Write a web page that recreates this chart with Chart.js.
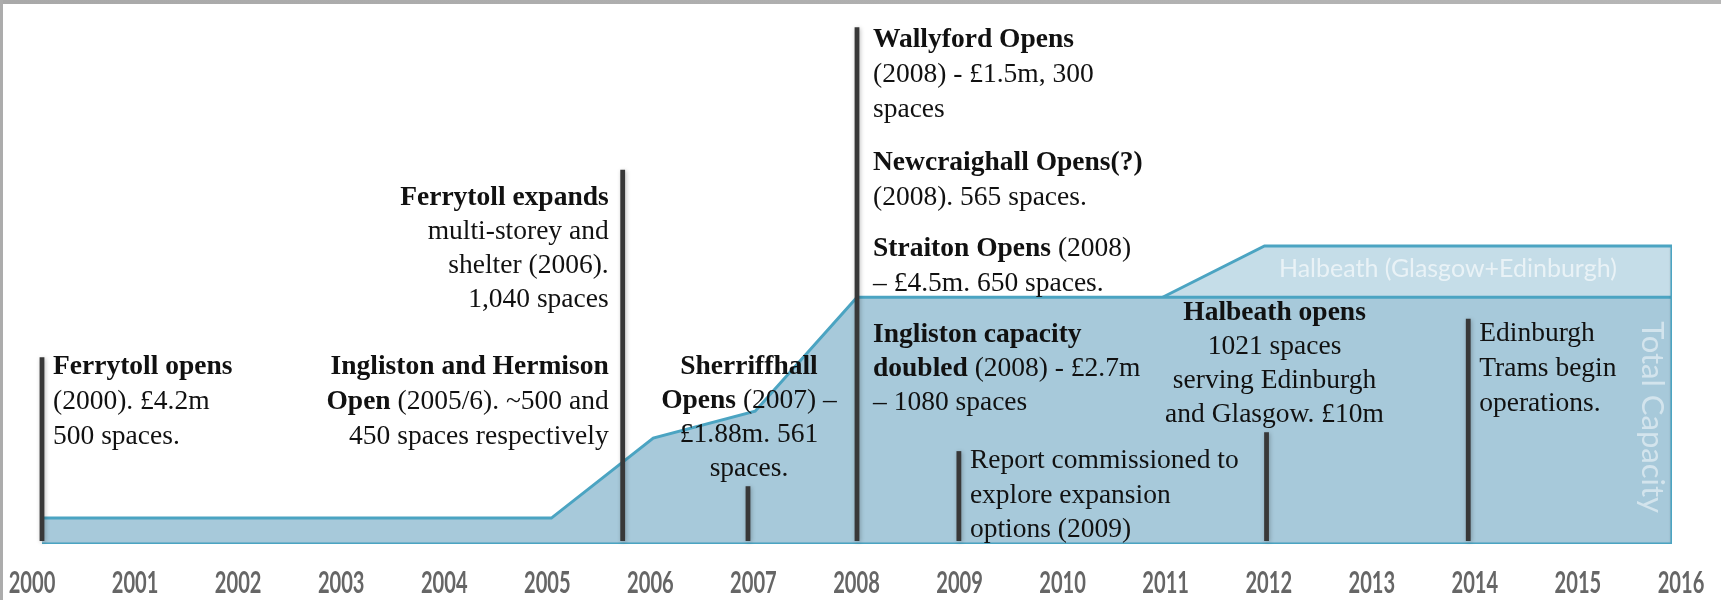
<!DOCTYPE html>
<html>
<head>
<meta charset="utf-8">
<script src="https://cdn.jsdelivr.net/npm/chart.js@4.4.1/dist/chart.umd.min.js"></script>
<style>
html,body{margin:0;padding:0;background:#fff;overflow:hidden}
#wrap{position:relative;width:1721px;height:600px}
</style>
</head>
<body>
<div id="wrap"><canvas id="c" width="1721" height="600"></canvas></div>
<script>
// ---------------- DATA ----------------
const tickYears = [2000,2001,2002,2003,2004,2005,2006,2007,2008,2009,2010,2011,2012,2013,2014,2015,2016];

// Total capacity (relative height index)
const totalYears    = [2000, 2005, 2006, 2007, 2008, 2016];
const totalCapacity = [4.8,  4.8,  19.6, 24.6, 45.7, 45.7];

// Halbeath (Glasgow+Edinburgh) layer on top
const halbeathYears    = [2011, 2012, 2016];
const halbeathCapacity = [45.7, 55.2, 55.2];

// Outline of the right and bottom edges
const frameYears  = [2016, 2016, 2000];
const frameValues = [55.2, 0, 0];

// Event markers (year, top of marker)
const eventYears = [2000, 2005.7, 2006.93, 2008, 2009, 2012.02, 2014];
const eventTops  = [34.6, 69.3, 10.7, 95.7, 17.2, 20.7, 41.7];
const eventBase  = 0.55;

// ---------------- ANNOTATIONS ----------------
const SERIF = '"Liberation Serif", "Times New Roman", serif';
const SANS = 'Lato, "Open Sans", sans-serif';
const notes = [
  {year: 2000, dx: 11, y: 367, lh: 35, align: 'left',
   lines: ['**Ferrytoll opens**', '(2000). £4.2m', '500 spaces.']},
  {year: 2005.7, dx: -14, y: 198, lh: 34, align: 'right',
   lines: ['**Ferrytoll expands**', 'multi-storey and', 'shelter (2006).', '1,040 spaces']},
  {year: 2005.7, dx: -14, y: 367, lh: 35, align: 'right',
   lines: ['**Ingliston and Hermison**', '**Open** (2005/6). ~500 and', '450 spaces respectively']},
  {year: 2006.93, dx: 1, y: 367, lh: 34, align: 'center',
   lines: ['**Sherriffhall**', '**Opens** (2007) –', '£1.88m. 561', 'spaces.']},
  {year: 2008, dx: 16, y: 40, lh: 35, align: 'left',
   lines: ['**Wallyford Opens**', '(2008) - £1.5m, 300', 'spaces']},
  {year: 2008, dx: 16, y: 163, lh: 35, align: 'left',
   lines: ['**Newcraighall Opens(?)**', '(2008). 565 spaces.']},
  {year: 2008, dx: 16, y: 249, lh: 35, align: 'left',
   lines: ['**Straiton Opens** (2008)', '– £4.5m. 650 spaces.']},
  {year: 2008, dx: 16, y: 335, lh: 34, align: 'left',
   lines: ['**Ingliston capacity**', '**doubled** (2008) - £2.7m', '– 1080 spaces']},
  {year: 2009, dx: 11, y: 461, lh: 34.5, align: 'left',
   lines: ['Report commissioned to', 'explore expansion', 'options (2009)']},
  {year: 2012.02, dx: 8, y: 313, lh: 34, align: 'center',
   lines: ['**Halbeath opens**', '1021 spaces', 'serving Edinburgh', 'and Glasgow. £10m']},
  {year: 2014, dx: 11, y: 334, lh: 35, align: 'left',
   lines: ['Edinburgh', 'Trams begin', 'operations.']}
];

function drawRichLine(ctx, text, x, y, align, size) {
  const parts = text.split('**');
  const runs = parts.map((t, i) => ({t, bold: i % 2 === 1})).filter(r => r.t.length);
  const widths = runs.map(r => { ctx.font = (r.bold ? 'bold ' : '') + size + 'px ' + SERIF; return ctx.measureText(r.t).width; });
  const total = widths.reduce((a, b) => a + b, 0);
  let sx = align === 'left' ? x : (align === 'right' ? x - total : x - total / 2);
  runs.forEach((r, i) => {
    ctx.font = (r.bold ? 'bold ' : '') + size + 'px ' + SERIF;
    ctx.fillText(r.t, sx, y);
    sx += widths[i];
  });
}

const overlay = {
  id: 'overlay',
  beforeDatasetDraw(chart, args) {
    if (chart.data.datasets[args.index].label === 'frame') {
      const ctx = chart.ctx;
      ctx.save();
      ctx.shadowColor = 'rgba(0,0,0,0.35)';
      ctx.shadowBlur = 3;
      ctx.shadowOffsetX = 1;
      ctx.shadowOffsetY = 2;
    }
  },
  afterDatasetDraw(chart, args) {
    if (chart.data.datasets[args.index].label === 'frame') chart.ctx.restore();
  },
  afterDatasetsDraw(chart) {
    const ctx = chart.ctx;
    const xs = chart.scales.x, ys = chart.scales.y, ax = chart.scales.x2;
    // layer labels
    ctx.save();
    ctx.fillStyle = 'rgba(255,255,255,0.62)';
    ctx.font = '25px ' + SANS;
    ctx.textAlign = 'center';
    ctx.textBaseline = 'middle';
    ctx.fillText('Halbeath (Glasgow+Edinburgh)', xs.getPixelForValue(2013.8), ys.getPixelForValue(50.9));
    ctx.translate(xs.getPixelForValue(2015.8), ys.getPixelForValue(23.5));
    ctx.rotate(Math.PI / 2);
    ctx.fillStyle = 'rgba(255,255,255,0.5)';
    ctx.font = '31px ' + SANS;
    ctx.fillText('Total Capacity', 0, 0);
    ctx.restore();

    // event markers
    ctx.save();
    ctx.strokeStyle = '#383838';
    ctx.lineWidth = 4.8;
    ctx.shadowColor = 'rgba(0,0,0,0.25)';
    ctx.shadowBlur = 4;
    ctx.shadowOffsetX = 1;
    ctx.shadowOffsetY = 1;
    eventYears.forEach((yr, i) => {
      const px = xs.getPixelForValue(yr);
      ctx.beginPath();
      ctx.moveTo(px, ys.getPixelForValue(eventBase));
      ctx.lineTo(px, ys.getPixelForValue(eventTops[i]));
      ctx.stroke();
    });
    ctx.restore();

    // text notes
    ctx.save();
    ctx.fillStyle = '#111';
    ctx.textBaseline = 'middle';
    ctx.textAlign = 'left';
    notes.forEach(n => {
      const x = xs.getPixelForValue(n.year) + n.dx;
      n.lines.forEach((l, i) => drawRichLine(ctx, l, x, n.y + i * n.lh, n.align, 27.5));
    });
    ctx.restore();

    // year labels of the bottom axis (narrow face)
    ctx.save();
    ctx.fillStyle = '#666666';
    ctx.font = 'bold 30px ' + SANS;
    ctx.textAlign = 'center';
    ctx.textBaseline = 'middle';
    ax.ticks.forEach((t, i) => {
      const px = ax.getPixelForTick(i);
      ctx.save();
      ctx.translate(px, ax.top + 39);
      ctx.scale(0.67, 1);
      ctx.fillText(String(t.value), 0, 0);
      ctx.restore();
    });
    ctx.restore();
  },
  afterDraw(chart) {
    const ctx = chart.ctx;
    ctx.save();
    const g = ctx.createLinearGradient(0, 0, chart.width, 0);
    g.addColorStop(0, '#a9a9a9');
    g.addColorStop(1, '#b6b6b6');
    ctx.fillStyle = g;
    ctx.fillRect(0, 0, chart.width, 4);
    ctx.fillStyle = '#acacac';
    ctx.fillRect(0, 0, 3, chart.height);
    ctx.restore();
  }
};

const pts = (xs, ys) => xs.map((v, i) => ({x: v, y: ys[i]}));

new Chart(document.getElementById('c'), {
  type: 'line',
  data: {
    datasets: [
      {label: 'frame', data: pts(frameYears, frameValues), fill: false,
       borderColor: '#4ba4c2', borderWidth: 3, pointRadius: 0, order: 0, borderJoinStyle: 'miter'},
      {label: 'Total Capacity', data: pts(totalYears, totalCapacity), fill: 'origin',
       backgroundColor: '#a7c9da', borderColor: '#4ba4c2', borderWidth: 3, pointRadius: 0, order: 1, borderJoinStyle: 'miter'},
      {label: 'Halbeath (Glasgow+Edinburgh)', data: pts(halbeathYears, halbeathCapacity), fill: 'origin',
       backgroundColor: '#c5dde8', borderColor: '#4ba4c2', borderWidth: 3, pointRadius: 0, order: 2, borderJoinStyle: 'miter'}
    ]
  },
  options: {
    responsive: false,
    animation: false,
    layout: {padding: {top: 4, left: 42, right: 49, bottom: 0}},
    plugins: {legend: {display: false}, tooltip: {enabled: false}},
    scales: {
      x: {type: 'linear', min: 2000, max: 2016, display: false},
      y: {type: 'linear', min: 0, max: 100, display: false},
      x2: {
        type: 'linear', position: 'bottom',
        min: 2000 + 10 / 103.2, max: 2016 - 9 / 103.2,
        afterBuildTicks: (axis) => { axis.ticks = tickYears.map(v => ({value: v})); },
        afterFit: (axis) => { axis.height = 56; axis.paddingLeft = 0; axis.paddingRight = 0; },
        grid: {display: false, drawTicks: false},
        border: {display: false},
        ticks: {display: false}
      }
    }
  },
  plugins: [overlay]
});
</script>
</body>
</html>
